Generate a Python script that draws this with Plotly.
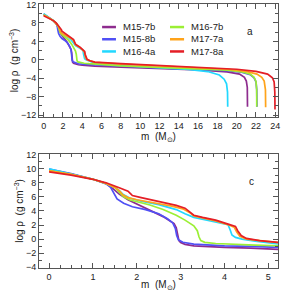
import plotly.graph_objects as go

# ---------------- data ----------------
models = ["M15-7b", "M15-8b", "M16-4a", "M16-7b", "M17-7a", "M17-8a"]
colors = ["#8E2C8E", "#5050F5", "#22D8FF", "#9BEF34", "#FFA31A", "#E41E26"]

m_M15_7b = [0, 0.5, 1.0, 1.3, 1.45, 1.6, 1.8, 2.0, 2.2, 2.4, 2.6, 2.75, 2.85, 2.9, 2.93, 2.96, 3.0, 3.1, 3.3, 3.6, 4.0, 4.6, 5.3,
            8, 12, 16, 19, 20.3, 20.8, 21.0, 21.1, 21.12]
r_M15_7b = [9.85, 9.25, 8.5, 7.9, 7.2, 6.4, 5.6, 5.0, 4.5, 3.9, 3.2, 2.6, 2.2, 1.6, 0.5, -0.2, -0.5, -0.75, -0.95, -1.08, -1.18, -1.27, -1.37,
            -1.6, -1.9, -2.2, -2.6, -3.1, -3.8, -4.6, -6.0, -10.2]

m_M15_8b = [0, 0.5, 1.0, 1.3, 1.4, 1.47, 1.55, 1.7, 1.9, 2.2, 2.5, 2.7, 2.82, 2.88, 2.91, 2.95, 3.05, 3.3, 3.6, 4.0, 4.6, 5.3,
            8, 12, 16, 19, 20.5, 21.4, 21.8, 22.0, 22.08, 22.1]
r_M15_8b = [9.95, 9.3, 8.5, 7.85, 7.4, 6.5, 5.7, 5.1, 4.6, 4.2, 3.6, 2.9, 2.3, 1.5, 0.5, -0.1, -0.45, -0.7, -0.85, -0.95, -1.03, -1.1,
            -1.4, -1.75, -2.05, -2.35, -2.7, -3.2, -3.9, -4.8, -6.5, -10.2]

m_M16_4a = [0, 0.5, 1.0, 1.3, 1.5, 1.6, 1.7, 1.85, 2.1, 2.5, 2.9, 3.1, 3.3, 3.6, 3.9, 4.08, 4.13, 4.17, 4.25, 4.4, 4.7, 5.3,
            8, 12, 15, 17, 18.2, 18.7, 18.95, 19.05, 19.07]
r_M16_4a = [10.0, 9.3, 8.5, 7.9, 7.4, 6.9, 6.3, 5.8, 5.4, 4.9, 4.2, 3.6, 3.1, 2.7, 2.35, 2.05, 1.3, 0.6, 0.25, 0.0, -0.3, -0.75,
            -1.2, -1.65, -2.1, -2.55, -3.3, -4.2, -5.2, -7.0, -10.2]

m_M16_7b = [0, 0.5, 1.0, 1.3, 1.5, 1.6, 1.7, 1.85, 2.0, 2.3, 2.6, 2.9, 3.1, 3.3, 3.38, 3.42, 3.46, 3.55, 3.8, 4.2, 4.7, 5.3,
            8, 12, 16, 19, 20.5, 21.4, 21.8, 22.0, 22.07, 22.08]
r_M16_7b = [9.75, 9.2, 8.5, 7.9, 7.35, 6.7, 6.0, 5.55, 5.3, 4.85, 4.2, 3.4, 2.7, 1.9, 1.2, 0.3, -0.2, -0.45, -0.62, -0.75, -0.85, -0.95,
            -1.3, -1.65, -1.95, -2.25, -2.6, -3.1, -3.8, -4.7, -6.5, -10.2]

m_M17_7a = [0, 0.5, 1.0, 1.3, 1.5, 1.6, 1.68, 1.8, 2.0, 2.4, 2.8, 3.05, 3.2, 3.3, 3.5, 3.8, 4.1, 4.22, 4.28, 4.35, 4.5, 4.8, 5.3,
            8, 12, 16, 19, 21, 22.1, 22.6, 22.85, 22.98, 23.0]
r_M17_7a = [9.7, 9.2, 8.5, 7.9, 7.35, 6.9, 6.3, 5.9, 5.6, 5.2, 4.7, 4.3, 3.8, 3.3, 3.0, 2.6, 2.0, 1.7, 1.0, 0.4, 0.0, -0.25, -0.55,
            -0.95, -1.35, -1.7, -2.05, -2.5, -3.1, -3.8, -4.6, -6.5, -10.3]

m_M17_8a = [0, 0.5, 1.0, 1.3, 1.6, 1.8, 1.85, 1.9, 2.1, 2.5, 2.9, 3.1, 3.2, 3.3, 3.5, 3.8, 4.1, 4.25, 4.3, 4.38, 4.5, 4.8, 5.3,
            8, 12, 16, 20, 22, 23.2, 23.7, 23.88, 23.95, 23.97]
r_M17_8a = [9.55, 9.1, 8.5, 8.0, 7.3, 6.8, 6.5, 6.2, 5.9, 5.4, 4.8, 4.4, 3.9, 3.4, 3.1, 2.7, 2.1, 1.8, 1.2, 0.5, 0.1, -0.2, -0.5,
            -0.85, -1.25, -1.6, -2.05, -2.5, -3.1, -3.9, -4.8, -7.0, -10.8]

series = {
    "M15-7b": (m_M15_7b, r_M15_7b),
    "M15-8b": (m_M15_8b, r_M15_8b),
    "M16-4a": (m_M16_4a, r_M16_4a),
    "M16-7b": (m_M16_7b, r_M16_7b),
    "M17-7a": (m_M17_7a, r_M17_7a),
    "M17-8a": (m_M17_8a, r_M17_8a),
}

top_xticks = list(range(0, 25, 2))
top_yticks = [-12, -8, -4, 0, 4, 8, 12]
bot_xticks = [0, 1, 2, 3, 4, 5]
bot_yticks = [-4, -2, 0, 2, 4, 6, 8, 10, 12]
panel_labels = ["a", "c"]

# ---------------- figure ----------------
FONT = "Liberation Sans, Arial, sans-serif"
fig = go.Figure()

for name, col in zip(models, colors):
    mx, ry = series[name]
    for xa, ya in (("x", "y"), ("x2", "y2")):
        fig.add_trace(go.Scatter(x=mx, y=ry, mode="lines", name=name,
                                 line=dict(color=col, width=1.7),
                                 xaxis=xa, yaxis=ya, showlegend=False))

axis_common = dict(showline=True, linecolor="#555", linewidth=1, mirror="allticks",
                   ticks="inside", ticklen=5, tickcolor="#555", tickwidth=1,
                   showgrid=False, zeroline=False, automargin=False,
                   ticklabeloverflow="allow",
                   tickfont=dict(family=FONT, size=9, color="#222"))

ytitle = dict(text="log ρ  (g cm<sup>−3</sup>)", font=dict(family=FONT, size=10, color="#222"), standoff=0)
xtitle = dict(text="m  (M<sub>⊙</sub>)", font=dict(family=FONT, size=10, color="#222"), standoff=0)

fig.update_layout(
    width=287, height=295,
    margin=dict(l=39, r=9, t=4, b=27, autoexpand=False),
    paper_bgcolor="white", plot_bgcolor="white",
    showlegend=False,
    xaxis=dict(domain=[0, 1], anchor="y", range=[-0.48, 24.28], tickvals=top_xticks,
               minor=dict(dtick=1, ticklen=3, ticks="inside", tickcolor="#555"),
               title=xtitle, **axis_common),
    yaxis=dict(domain=[0.572, 1], anchor="x", range=[-12.4, 12.1], tickvals=top_yticks,
               minor=dict(dtick=2, ticklen=3, ticks="inside", tickcolor="#555"),
               title=ytitle, **axis_common),
    xaxis2=dict(domain=[0, 1], anchor="y2", range=[-0.23, 5.22], tickvals=bot_xticks,
                minor=dict(dtick=0.25, ticklen=3, ticks="inside", tickcolor="#555"),
                title=xtitle, **axis_common),
    yaxis2=dict(domain=[0, 0.432], anchor="x2", range=[-4.1, 12.1], tickvals=bot_yticks,
                minor=dict(dtick=1, ticklen=3, ticks="inside", tickcolor="#555"),
                title=ytitle, **axis_common),
)

# panel labels
fig.add_annotation(text=panel_labels[0], xref="x domain", yref="y domain", x=0.905, y=0.82,
                   showarrow=False, font=dict(family=FONT, size=10, color="#222"))
fig.add_annotation(text=panel_labels[1], xref="x2 domain", yref="y2 domain", x=0.908, y=0.82,
                   showarrow=False, font=dict(family=FONT, size=10, color="#222"))

# legend (two columns, three rows) in the top panel
col_x = [(0.264, 0.322, 0.343), (0.548, 0.607, 0.628)]
row_y = [0.796, 0.688, 0.580]
for c in range(2):
    x0, x1, xt = col_x[c]
    names = models[3 * c:3 * c + 3]
    for r, name in enumerate(names):
        col = colors[3 * c + r]
        fig.add_shape(type="line", xref="x domain", yref="y domain", x0=x0, x1=x1, y0=row_y[r], y1=row_y[r],
                      line=dict(color=col, width=2.5))
    fig.add_annotation(text="<br>".join(names), xref="x domain", yref="y domain", x=xt, y=row_y[1],
                       xanchor="left", yanchor="middle", align="left",
                       showarrow=False, font=dict(family=FONT, size=9.5, color="#222"))

fig.write_html("out.html", config={"displayModeBar": False},
               post_script="document.body.style.margin='0';document.body.style.overflow='hidden';")
